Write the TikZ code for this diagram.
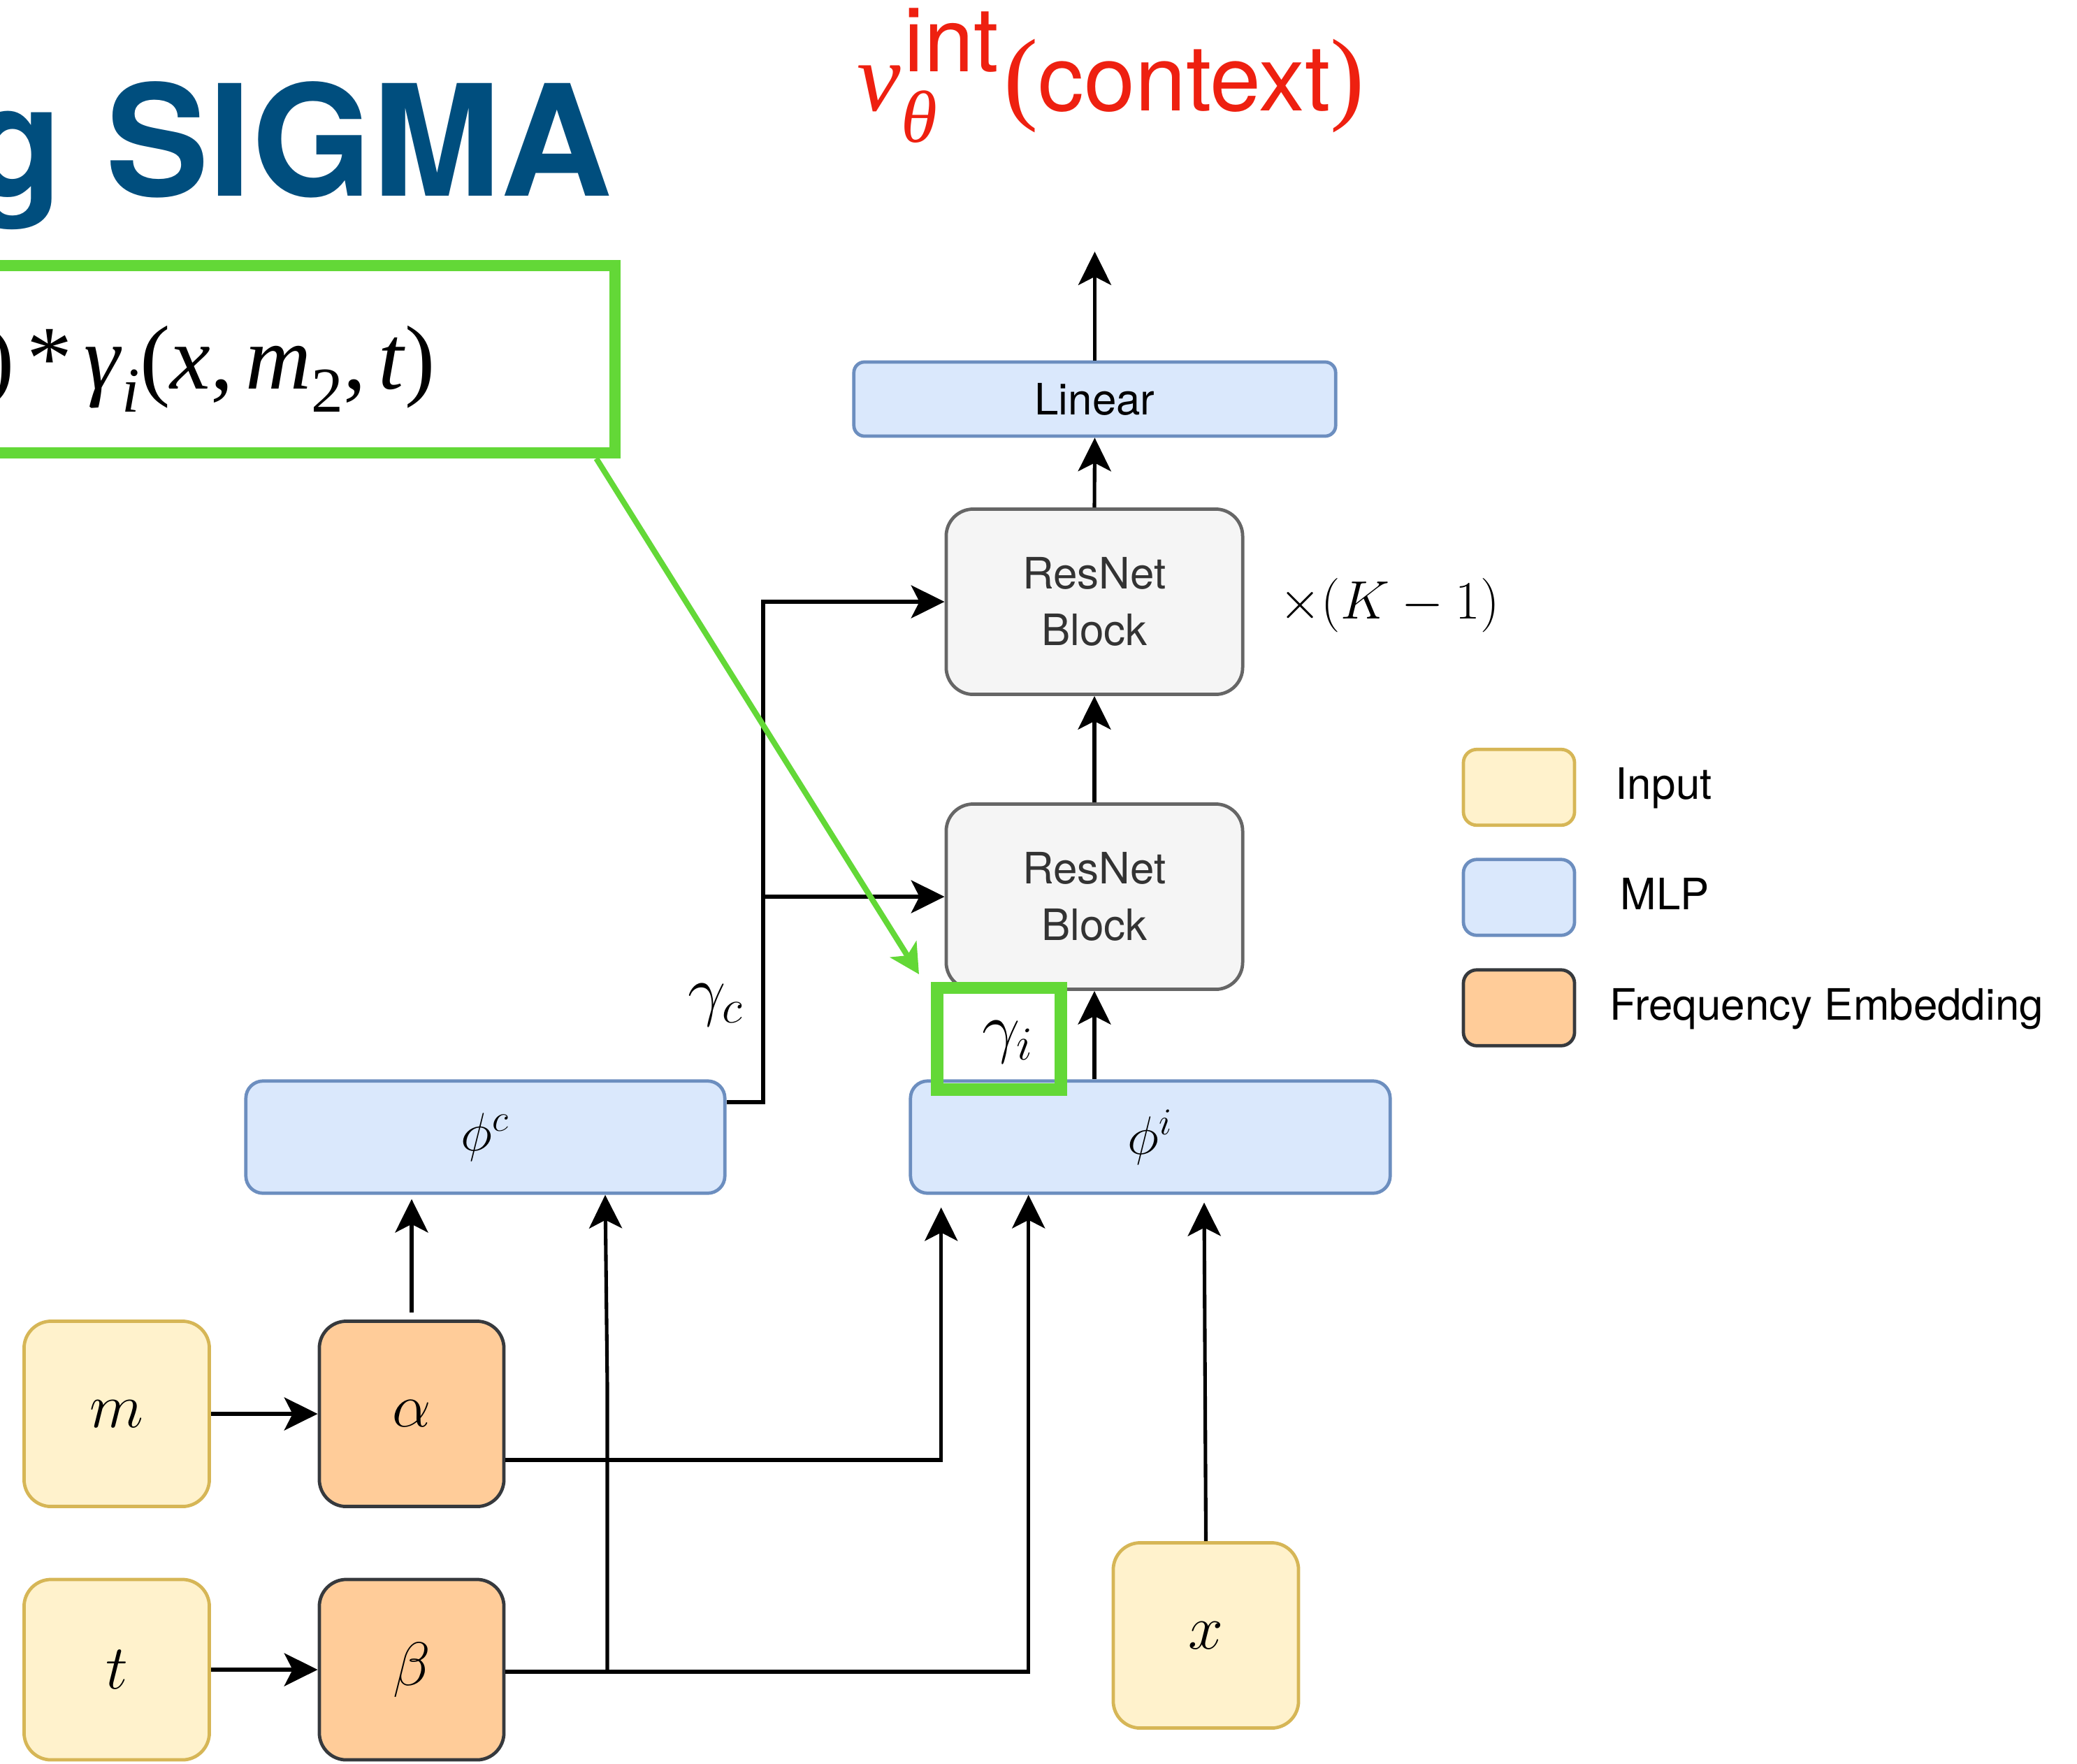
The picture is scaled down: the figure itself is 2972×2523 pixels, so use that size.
\RequirePackage{fix-cm}
\documentclass[tikz,border=0pt]{standalone}
\usepackage[no-math]{fontspec}
\setmainfont{TeX Gyre Heros}
\newfontfamily\tnr{Liberation Serif}
\usetikzlibrary{arrows.meta,calc}

\definecolor{inputfill}{HTML}{FFF2CC}
\definecolor{inputdraw}{HTML}{D6B656}
\definecolor{mlpfill}{HTML}{DAE8FC}
\definecolor{mlpdraw}{HTML}{6C8EBF}
\definecolor{embfill}{HTML}{FFCC99}
\definecolor{embdraw}{HTML}{36393D}
\definecolor{resfill}{HTML}{F5F5F5}
\definecolor{resdraw}{HTML}{666666}
\definecolor{restext}{HTML}{333333}
\definecolor{hilite}{HTML}{63D837}
\definecolor{titleblue}{HTML}{004E7E}
\definecolor{outred}{HTML}{EE2010}

% lowered subscript for the serif formula
\newcommand\fsub[1]{\raisebox{-9.4pt}{\fontsize{26}{26}\selectfont #1}}

\tikzset{
  box/.style={line width=1.35pt, inner sep=0pt, anchor=center},
  inbox/.style={box, fill=inputfill, draw=inputdraw, rounded corners=11pt,
    minimum width=2.65cm, minimum height=2.65cm,
    font=\fontsize{25.5}{26}\selectfont},
  embbox/.style={box, fill=embfill, draw=embdraw, rounded corners=11pt,
    minimum width=2.64cm, minimum height=2.65cm,
    font=\fontsize{25}{26}\selectfont},
  mlpbox/.style={box, fill=mlpfill, draw=mlpdraw, rounded corners=7pt},
  resbox/.style={box, fill=resfill, draw=resdraw, rounded corners=11pt,
    minimum width=4.24cm, minimum height=2.65cm, text=restext, align=center,
    font=\fontsize{17.6}{23}\selectfont},
  legbox/.style={box, rounded corners=5.5pt, minimum width=1.59cm, minimum height=1.085cm},
  legtext/.style={anchor=base west, inner sep=0pt, font=\fontsize{17.6}{20}\selectfont},
  wire/.style={line width=1.45pt},
  arr/.style={wire, -{Stealth[length=13.6pt, width=13.4pt, inset=3.4pt]}},
  hiarr/.style={draw=hilite, line width=2.3pt, -{Stealth[length=12pt, width=12.5pt, inset=3pt]}},
  redtext/.style={text=outred, inner sep=0pt, anchor=base west},
}

\begin{document}
\begin{tikzpicture}[x=0.01cm, y=-0.01cm]
\useasboundingbox (0,0) rectangle (2972,2523);
\clip (0,0) rectangle (2972,2523);

% heading and highlighted equation
\node[anchor=base east, inner sep=0pt, text=titleblue,
  font=\fontsize{62.9}{63}\selectfont\bfseries] (title) at (877,280) {g SIGMA};
\node[draw=hilite, line width=4.55pt, minimum width=9.4cm, minimum height=2.68cm,
  inner sep=0pt] (fbox) at (410,514) {};
\node[anchor=base east, inner sep=0pt, font=\tnr\fontsize{37}{37}\selectfont] (formula) at (624,556)
  {)\hspace{5pt}*\hspace{5pt}\textit{γ}\fsub{\textit{i}}(\textit{x},\hspace{5pt}\textit{m}\fsub{2},\hspace{5pt}\textit{t})};

% output label
\node[redtext, font=\tnr\itshape\fontsize{40}{40}\selectfont] (vv) at (1226,158.5) {v};
\node[redtext, font=\tnr\itshape\fontsize{30}{30}\selectfont] (vth) at (1289,203) {θ};
\node[redtext, font=\fontsize{36.5}{37}\selectfont] (vint) at (1293,102.7) {int};
\node[redtext] (vctx) at (1436,158.5)
  {{\tnr\fontsize{42}{42}\selectfont(}{\fontsize{37.3}{38}\selectfont context}{\tnr\fontsize{42}{42}\selectfont)}};

% main column
\coordinate (out) at (1566.5,360);
\node[mlpbox, rounded corners=4.3pt, minimum width=6.89cm, minimum height=1.06cm,
  font=\fontsize{17.6}{20}\selectfont] (lin) at (1566.5,571) {Linear};
\node[resbox] (rb2) at (1566,861) {ResNet\\Block};
\node[resbox] (rb1) at (1566,1283) {ResNet\\Block};
\node[anchor=base west, inner sep=0pt, font=\fontsize{22}{26}\selectfont] (rep) at (1830,885) {$\times(K-1)$};

% MLPs
\node[mlpbox, minimum width=6.85cm, minimum height=1.605cm,
  font=\fontsize{22}{26}\selectfont] (phic) at (694.5,1627) {$\phi^c$};
\node[mlpbox, minimum width=6.86cm, minimum height=1.605cm,
  font=\fontsize{22}{26}\selectfont] (phii) at (1646,1627) {$\phi^i$};

% inputs and embeddings
\node[inbox] (m) at (167,2023) {$m$};
\node[inbox, minimum height=2.58cm] (t) at (167,2389) {$t$};
\node[embbox] (alpha) at (589,2023) {$\alpha$};
\node[embbox, minimum height=2.58cm] (beta) at (589,2389) {$\beta$};
\node[inbox] (xin) at (1725.5,2340) {$x$};

% connectors of the main column
\draw[arr] (lin.north) -- (out);
\draw[arr] (rb2.north) -- (lin.south);
\draw[arr] (rb1.north) -- (rb2.south);
\draw[arr] (rb1.south |- phii.north) -- (rb1.south);

% context branch
\coordinate (gc) at (1092,1577);
\draw[arr] (phic.east |- gc) -- (gc) |- (rb2.west);
\draw[arr] (gc |- rb1.west) -- (rb1.west);
\node[anchor=base, inner sep=0pt, font=\fontsize{27.5}{30}\selectfont] (gcl) at (1024,1449) {$\gamma_c$};

% embedding inputs
\draw[arr] (m) -- (alpha);
\draw[arr] (t) -- (beta);
\draw[arr] ($(alpha.north)+(0,-10)$) -- ($(alpha.north |- phic.south)+(0,6)$);
\draw[arr] ($(alpha.east)+(0,66)$) -| ($(phii.south west)+(46.3,18)$);
\coordinate (bj) at (869,2392);
\coordinate (bk) at (869,1983);
\draw[arr] (beta.east |- bj) -| ($(phii.south west)+(171.3,0)$);
\draw[arr] (bj) -- (bk) -- ($(phic.south)+(171.5,0)$);
\draw[arr] (xin.north) -- ($(xin.north |- phii.south)+(-2.5,11)$);

% highlighted gamma_i
\node[draw=hilite, line width=5.1pt, minimum width=1.765cm, minimum height=1.45cm,
  inner sep=0pt] (gbox) at (1429.75,1486) {};
\node[anchor=base, inner sep=0pt, font=\fontsize{27.5}{30}\selectfont] (gil) at (1442,1502) {$\gamma_i$};
\draw[hiarr] ($(fbox.south east)+(-35,0)$) -- ($(gbox.north west)+(-17.5,-10.5)$);

% legend
\node[legbox, fill=inputfill, draw=inputdraw] (lg1) at (2173.5,1126.5) {};
\node[legbox, fill=mlpfill, draw=mlpdraw] (lg2) at (2173.5,1284) {};
\node[legbox, fill=embfill, draw=embdraw] (lg3) at (2173.5,1442) {};
\node[legtext] (lt1) at (2311,1143.8) {Input};
\node[legtext] (lt2) at (2318,1301.7) {MLP};
\node[legtext] (lt3) at (2303,1459.5) {Frequency Embedding};
\end{tikzpicture}
\end{document}
